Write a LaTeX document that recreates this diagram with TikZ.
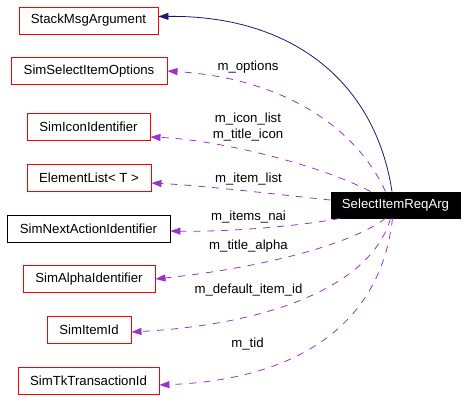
\documentclass[tikz,border=0pt]{standalone}
\usepackage{fontspec}
\setmainfont{Liberation Sans}
\usetikzlibrary{arrows.meta}
\definecolor{edgeblue}{RGB}{25,25,112}
\definecolor{edgepurple}{RGB}{153,50,204}
\definecolor{boxred}{RGB}{255,0,0}

\begin{document}
\begin{tikzpicture}[x=1pt, y=-1pt,
    classbox/.style={rectangle, draw=boxred, line width=0.9pt, minimum height=27pt, inner xsep=1pt, font=\fontsize{13.2}{15.5}\selectfont},
    inherit/.style={draw=edgeblue, line width=0.8pt, -{Triangle[length=10pt, width=7pt]}},
    usage/.style={draw=edgepurple, line width=0.8pt, dash pattern=on 7pt off 7pt, -{Triangle[length=10pt, width=7pt]}},
    lbl/.style={font=\fontsize{13.2}{15.5}\selectfont, inner sep=0pt}]
    \useasboundingbox (0,0) rectangle (467,411);

    % Classes on the left
    \node[classbox, minimum width=139pt] (stack) at (88.5,20.5) {StackMsgArgument};
    \node[classbox, minimum width=156pt] (opt) at (89,71) {SimSelectItemOptions};
    \node[classbox, minimum width=123pt] (icon) at (88.5,127) {SimIconIdentifier};
    \node[classbox, minimum width=124pt] (elem) at (89,178) {ElementList< T >};
    \node[classbox, draw=black, minimum width=163pt] (nai) at (88.5,228.5) {SimNextActionIdentifier};
    \node[classbox, minimum width=132pt] (alpha) at (89,279) {SimAlphaIdentifier};
    \node[classbox, minimum width=84pt] (item) at (89,330) {SimItemId};
    \node[classbox, minimum width=141pt] (tid) at (88.5,380.5) {SimTkTransactionId};

    % The class itself
    \node[classbox, draw=black, fill=black, text=white, minimum width=129pt, minimum height=26pt] (sel) at (395.5,205) {SelectItemReqArg};

    % Inheritance
    \draw[inherit] ([xshift=-3.5pt]sel.north) .. controls (375,80) and (290,15) .. ([yshift=4pt]stack.east);

    % Members
    \draw[usage] ([xshift=-10pt]sel.north) .. controls (355,125) and (280,78) .. (opt.east);
    \draw[usage] ([xshift=-25pt]sel.north) .. controls (320,165) and (220,140) .. ([yshift=-10pt]icon.east);
    \draw[usage] ([yshift=5pt]sel.west) .. controls (290,196) and (210,186) .. ([yshift=-5pt]elem.east);
    \draw[usage] ([xshift=9pt]sel.south west) .. controls (300,226) and (230,232) .. ([yshift=-2.5pt]nai.east);
    \draw[usage] ([xshift=-10pt]sel.south) .. controls (350,245) and (260,268) .. (alpha.east);
    \draw[usage] ([xshift=-5pt]sel.south) .. controls (370,290) and (260,325) .. ([yshift=-2pt]item.east);
    \draw[usage] ([xshift=-3pt]sel.south) .. controls (380,330) and (290,380) .. ([yshift=-4.5pt]tid.east);

    % Member names
    \node[lbl] (lopt) at (248,67) {m\_options};
    \node[lbl, align=center] (licon) at (248,127) {m\_icon\_list\\m\_title\_icon};
    \node[lbl] (lelem) at (248.5,179) {m\_item\_list};
    \node[lbl] (lnai) at (248.5,217) {m\_items\_nai};
    \node[lbl] (lalpha) at (248.5,246) {m\_title\_alpha};
    \node[lbl] (litem) at (248.5,290) {m\_default\_item\_id};
    \node[lbl] (ltid) at (247.5,344) {m\_tid};
\end{tikzpicture}
\end{document}
